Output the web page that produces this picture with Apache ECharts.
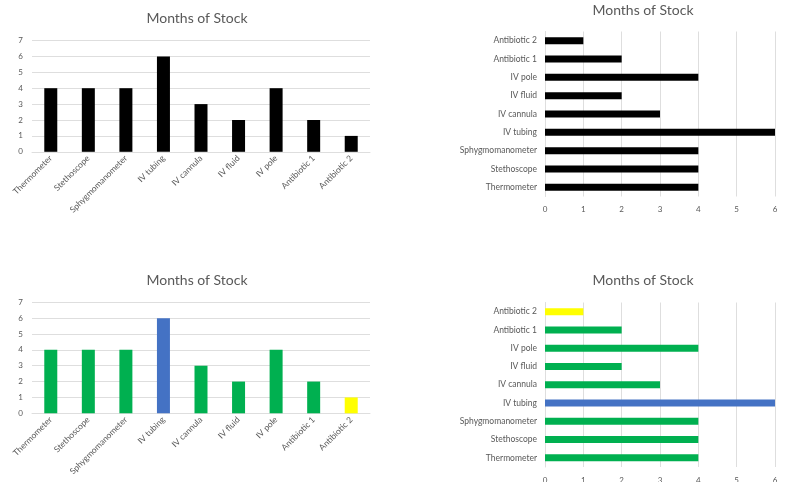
<!DOCTYPE html>
<html>
<head>
<meta charset="utf-8">
<script src="https://cdn.jsdelivr.net/npm/echarts@6/dist/echarts.min.js"></script>
<style>
  html, body { margin: 0; padding: 0; background: #fff; }
  #chart { width: 808px; height: 482px; }
</style>
</head>
<body>
<div id="chart"></div>
<script>
// Stock on hand, in months, per item
const categories = ['Thermometer', 'Stethoscope', 'Sphygmomanometer', 'IV tubing', 'IV cannula', 'IV fluid', 'IV pole', 'Antibiotic 1', 'Antibiotic 2'];
const monthsOfStock = [4, 4, 4, 6, 3, 2, 4, 2, 1];
const verticalTicks = [0, 1, 2, 3, 4, 5, 6, 7];
const horizontalTicks = [0, 1, 2, 3, 4, 5, 6];
const chartTitle = 'Months of Stock';

const FONT = 'Lato, "Open Sans", sans-serif';
const TEXT = '#595959';
const GRID = '#dedede';

// Highlight colours: longest supply blue, shortest yellow, the rest green
const maxVal = Math.max(...monthsOfStock);
const minVal = Math.min(...monthsOfStock);
function highlight(v) {
  if (v === maxVal) return '#4472C4';
  if (v === minVal) return '#FFFF00';
  return '#00B050';
}
const plain = monthsOfStock.map(v => ({ value: v, itemStyle: { color: '#000' } }));
const coloured = monthsOfStock.map(v => ({ value: v, itemStyle: { color: highlight(v) } }));

const grids = [
  { left: 32, top: 40.5, width: 338, height: 111.3 },
  { left: 545, top: 31.5, width: 230, height: 165 },
  { left: 32, top: 302.3, width: 338, height: 111 },
  { left: 545, top: 302.5, width: 230, height: 164.5 }
].map(g => Object.assign({ outerBoundsMode: 'none', containLabel: false }, g));

function titleAt(x, y) {
  return {
    text: chartTitle, left: x, top: y, textAlign: 'center',
    textStyle: { fontFamily: FONT, fontSize: 14, fontWeight: 'normal', color: TEXT }
  };
}

function catAxisBottom(gi) {
  return {
    type: 'category', gridIndex: gi, data: categories,
    axisLine: { show: true, lineStyle: { color: GRID } },
    axisTick: { show: false },
    axisLabel: { rotate: 45, margin: 5, interval: 0, fontFamily: FONT, fontSize: 8.5, color: TEXT }
  };
}
function valAxisLeft(gi) {
  return {
    type: 'value', gridIndex: gi, min: verticalTicks[0], max: verticalTicks[verticalTicks.length - 1], interval: 1,
    axisLine: { show: false }, axisTick: { show: false },
    splitLine: { show: true, lineStyle: { color: GRID } },
    axisLabel: { margin: 9, fontFamily: FONT, fontSize: 8, color: TEXT }
  };
}
function valAxisBottom(gi) {
  return {
    type: 'value', gridIndex: gi, min: horizontalTicks[0], max: horizontalTicks[horizontalTicks.length - 1], interval: 1,
    axisLine: { show: false }, axisTick: { show: false },
    splitLine: { show: true, lineStyle: { color: GRID } },
    axisLabel: { margin: 9, fontFamily: FONT, fontSize: 8, color: TEXT }
  };
}
function catAxisLeft(gi) {
  return {
    type: 'category', gridIndex: gi, data: categories,
    axisLine: { show: true, lineStyle: { color: GRID } },
    axisTick: { show: false },
    axisLabel: { margin: 8, interval: 0, fontFamily: FONT, fontSize: 8.5, color: TEXT }
  };
}

const chart = echarts.init(document.getElementById('chart'), null, { renderer: 'canvas' });
chart.setOption({
  animation: false,
  backgroundColor: '#fff',
  title: [titleAt(192, 6), titleAt(638, -2), titleAt(192, 268), titleAt(638, 268)],
  grid: grids,
  xAxis: [catAxisBottom(0), valAxisBottom(1), catAxisBottom(2), valAxisBottom(3)],
  yAxis: [valAxisLeft(0), catAxisLeft(1), valAxisLeft(2), catAxisLeft(3)],
  series: [
    { type: 'bar', xAxisIndex: 0, yAxisIndex: 0, data: plain, barWidth: 13 },
    { type: 'bar', xAxisIndex: 1, yAxisIndex: 1, data: plain, barWidth: 7 },
    { type: 'bar', xAxisIndex: 2, yAxisIndex: 2, data: coloured, barWidth: 13 },
    { type: 'bar', xAxisIndex: 3, yAxisIndex: 3, data: coloured, barWidth: 7 }
  ]
});
</script>
</body>
</html>
